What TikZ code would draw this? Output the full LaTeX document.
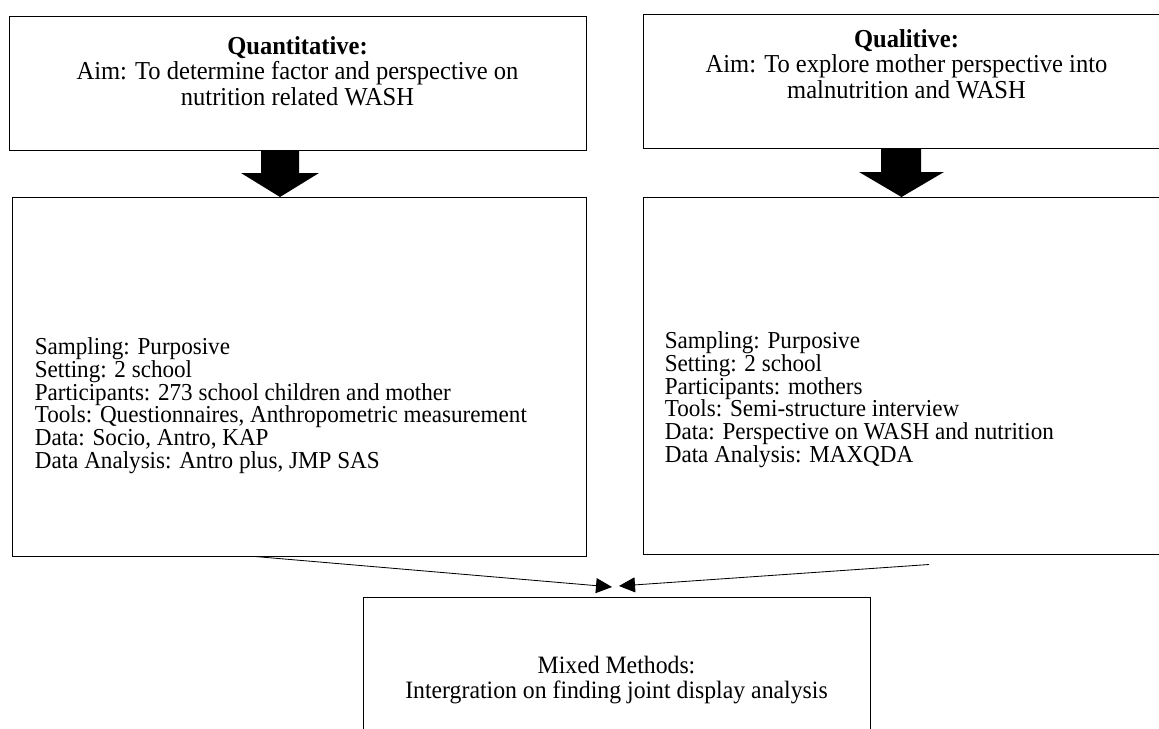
\documentclass[tikz,border=0pt]{standalone}
\usepackage{fontspec}
\setmainfont{Liberation Serif}[FakeStretch=0.95]
\usetikzlibrary{arrows.meta,positioning}
\begin{document}
\lineskiplimit=-20pt
\begin{tikzpicture}[x=0.6pt,y=-0.6pt,
    box/.style={draw, line width=0.6pt, inner sep=0pt},
    aimtext/.style={align=center, inner sep=0pt, font=\fontsize{15.5}{15.3}\selectfont},
    mixtext/.style={align=center, inner sep=0pt, font=\fontsize{15}{15}\selectfont},
    listtext/.style={align=left, inner sep=0pt, font=\fontsize{14.6}{13.6}\selectfont},
    conn/.style={-{Triangle[length=9.6pt,width=9pt]}, line width=0.5pt}]
    \useasboundingbox (0,0) rectangle (1159,729);
    \clip (0,0) rectangle (1159,729);

    % aims
    \node[box, minimum width=346.2pt, minimum height=80.4pt] (qnaim) at (297.5,83) {};
    \node[aimtext, below=12.2pt of qnaim.north] (qnaimtext) {\textbf{Quantitative:}\\Aim: To determine factor and perspective on\\nutrition related WASH};
    \node[box, minimum width=316.2pt, minimum height=80.4pt] (qlaim) at (906.5,81) {};
    \node[aimtext, below=9.2pt of qlaim.north] (qlaimtext) {\textbf{Qualitive:}\\Aim: To explore mother perspective into\\malnutrition and WASH};

    % methods
    \node[box, minimum width=344.4pt, minimum height=215.4pt] (qnbig) at (299,376.5) {};
    \node[listtext, below right=84.6pt and 13.8pt of qnbig.north west, anchor=north west] (qnlist) {Sampling: Purposive\\Setting: 2 school\\Participants: 273 school children and mother\\Tools: Questionnaires, Anthropometric measurement\\Data: Socio, Antro, KAP\\Data Analysis: Antro plus, JMP SAS};
    \node[box, minimum width=316.2pt, minimum height=214.2pt] (qlbig) at (906.5,375.5) {};
    \node[listtext, below right=81pt and 13.2pt of qlbig.north west, anchor=north west] (qllist) {Sampling: Purposive\\Setting: 2 school\\Participants: mothers\\Tools: Semi-structure interview\\Data: Perspective on WASH and nutrition\\Data Analysis: MAXQDA};

    % block arrows
    \fill (261,150) -- (299,150) -- (299,173) -- (319,173) -- (280,197) -- (241,173) -- (261,173) -- cycle;
    \fill (881,148) -- (921,148) -- (921,172) -- (944,172) -- (901.5,197) -- (859,172) -- (881,172) -- cycle;

    % mixed methods
    \node[box, minimum width=304.2pt, minimum height=120pt] (mix) at (616.5,697) {};
    \node[mixtext, below=35.6pt of mix.north] (mixtext) {Mixed Methods:\\Intergration on finding joint display analysis};
    \coordinate (mixL) at (612,587);
    \coordinate (mixR) at (619,586);
    \draw[conn] (qnbig.south) ++(-44,0) -- (mixL);
    \draw[conn] (qlbig.south) ++(22.5,10) -- (mixR);
\end{tikzpicture}
\end{document}
